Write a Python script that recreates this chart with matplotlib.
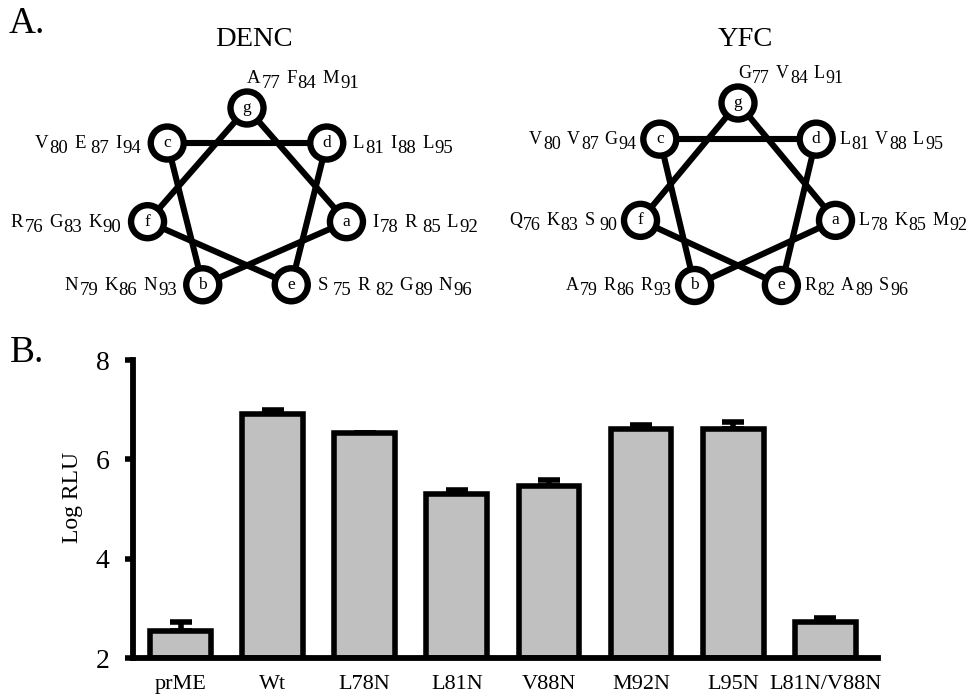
import numpy as np
import matplotlib
matplotlib.use('Agg')
import matplotlib.pyplot as plt
from matplotlib.patches import Circle

plt.rcParams['font.family'] = ['Liberation Serif', 'DejaVu Serif']

# helical wheel residues, heptad positions a-g
positions = ['a', 'b', 'c', 'd', 'e', 'f', 'g']
denc = {
    'g': ['A77', 'F84', 'M91'],
    'c': ['V80', 'E 87', 'I94'],
    'd': ['L81', 'I88', 'L95'],
    'f': ['R76', 'G83', 'K90'],
    'a': ['I78', 'R 85', 'L92'],
    'b': ['N79', 'K86', 'N93'],
    'e': ['S 75', 'R 82', 'G89', 'N96'],
}
yfc = {
    'g': ['G77', 'V84', 'L91'],
    'c': ['V80', 'V87', 'G94'],
    'd': ['L81', 'V88', 'L95'],
    'f': ['Q76', 'K83', 'S 90'],
    'a': ['L78', 'K85', 'M92'],
    'b': ['A79', 'R86', 'R93'],
    'e': ['R82', 'A89', 'S96'],
}

# luciferase activity
constructs = ['prME', 'Wt', 'L78N', 'L81N', 'V88N', 'M92N', 'L95N', 'L81N/V88N']
log_rlu = [2.55, 6.92, 6.54, 5.31, 5.47, 6.62, 6.61, 2.73]
log_err = [0.18, 0.08, 0.0, 0.08, 0.12, 0.08, 0.14, 0.08]

W, H = 972, 696
fig = plt.figure(figsize=(W / 100, H / 100), dpi=100)

# overlay axes in pixel units for the wheels
ov = fig.add_axes([0, 0, 1, 1])
ov.set_xlim(0, W)
ov.set_ylim(H, 0)
ov.axis('off')
renderer = fig.canvas.get_renderer()

# clockwise order of vertices starting at the top
vertex_order = ['g', 'd', 'a', 'e', 'b', 'f', 'c']
links = ['a', 'b', 'c', 'd', 'e', 'f', 'g', 'a']


def residue_label(x, y, residues, ha, size):
    arts = []
    for i, res in enumerate(residues):
        t1 = ov.text(0, y, res[0], fontsize=size, va='baseline')
        t2 = ov.text(0, y + 5, res[1:].strip(), fontsize=size, va='baseline')
        arts.append((t1, 1.0 if i == 0 else 6.0))
        arts.append((t2, 5.0 if ' ' in res else 1.0))
    widths = [a.get_window_extent(renderer).width for a, _ in arts]
    total = sum(widths) + sum(g for _, g in arts[1:])
    cur = x if ha == 'left' else x - total
    for k, (a, g) in enumerate(arts):
        if k > 0:
            cur += g
        a.set_x(cur)
        cur += widths[k]


def wheel(cx, cy, rx, ry, residues, title, off, size):
    pts = {}
    for k, p in enumerate(vertex_order):
        ang = 2 * np.pi * k / 7
        pts[p] = (cx + rx * np.sin(ang), cy - ry * np.cos(ang))
    for p, q in zip(links[:-1], links[1:]):
        ov.plot([pts[p][0], pts[q][0]], [pts[p][1], pts[q][1]],
                color='black', lw=4.4, solid_capstyle='round', zorder=1)
    for p in positions:
        x, y = pts[p]
        ov.add_patch(Circle((x, y), 16.5, fc='white', ec='black', lw=4.6, zorder=2))
        ov.text(x, y, p, fontsize=12.5, ha='center', va='center', zorder=3)
        if p == 'g':
            residue_label(x, y - 25, residues[p], 'left', size)
        elif p in ('d', 'a', 'e'):
            residue_label(x + off, y + 5, residues[p], 'left', size)
        else:
            residue_label(x - off, y + 5, residues[p], 'right', size)
    ov.text(cx + 7, 46, title, fontsize=20.5, ha='center', va='baseline')


wheel(247, 201, 102, 93, denc, 'DENC', 26, 13.5)
wheel(738, 199, 100, 96, yfc, 'YFC', 23, 13)

ov.text(9, 33, 'A.', fontsize=27, va='baseline')
ov.text(10, 362, 'B.', fontsize=27, va='baseline')

# bar chart
ax = fig.add_axes([133 / W, 1 - 658 / H, (878 - 133) / W, (658 - 360) / H])
x = np.arange(len(constructs))
ax.errorbar(x, log_rlu, yerr=[np.zeros(len(x)), log_err], fmt='none',
            ecolor='black', elinewidth=4.0, capsize=8, capthick=4.0, zorder=1)
ax.bar(x, [v - 2 for v in log_rlu], bottom=2, width=0.66, color='#c0c0c0',
       edgecolor='black', linewidth=4.0, zorder=2)
ax.set_xlim(-0.516, 7.573)
ax.set_ylim(2, 8)
ax.set_yticks([2, 4, 6, 8])
ax.set_xticks(x)
ax.set_xticklabels(constructs, fontsize=16)
ax.tick_params(axis='y', direction='out', length=6, width=4.0, pad=11, labelsize=20)
ax.tick_params(axis='x', length=0, pad=12)
for s in ['top', 'right']:
    ax.spines[s].set_visible(False)
for s in ['left', 'bottom']:
    ax.spines[s].set_linewidth(4.2)
ax.set_ylabel('Log RLU', fontsize=17)
ax.yaxis.set_label_coords(-0.067, 0.54)

fig.savefig('out.png', dpi=100)
